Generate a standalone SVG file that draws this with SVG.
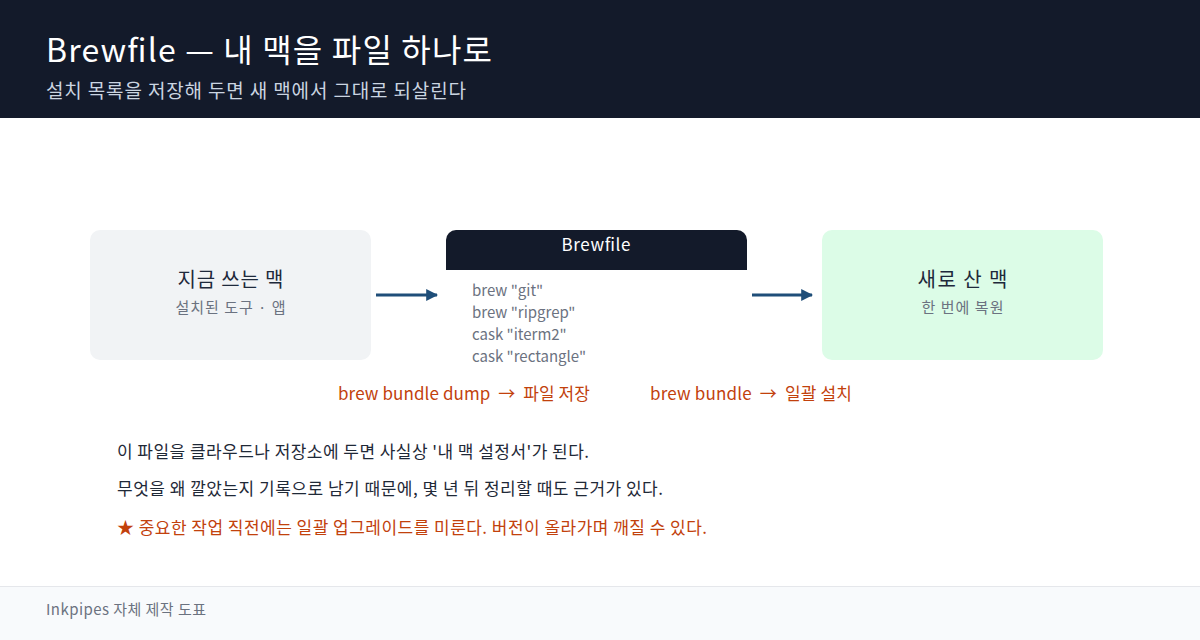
<svg xmlns="http://www.w3.org/2000/svg" width="1200" height="640" viewBox="0 0 1200 640">
<style>
text{font-family:"Noto Sans CJK KR","Noto Sans",sans-serif}
.nt{font-size:20px;fill:#1e293b;text-anchor:middle}
.ns{font-size:15px;fill:#6b7280;text-anchor:middle}
.code{font-size:15px;fill:#6b7280}
.lab{font-size:17px;fill:#c2410c}
.body{font-size:17px;fill:#1f2937}
.conn{stroke:#1f4e79;stroke-width:3;fill:none}
</style>
<defs>
<marker id="ah" viewBox="0 0 10 10" refX="9" refY="5" markerWidth="4" markerHeight="4" orient="auto" markerUnits="strokeWidth">
<path d="M0,0 L10,5 L0,10 z" fill="#1f4e79"/>
</marker>
</defs>
<rect x="0" y="0" width="1200" height="640" fill="#ffffff"/>
<g id="header">
<rect x="0" y="0" width="1200" height="118" fill="#131a2a"/>
<text x="46" y="62" font-size="32" fill="#ffffff" textLength="446" lengthAdjust="spacing">Brewfile — 내 맥을 파일 하나로</text>
<text x="46" y="98" font-size="19" fill="#cbd5e1" textLength="420" lengthAdjust="spacing">설치 목록을 저장해 두면 새 맥에서 그대로 되살린다</text>
</g>
<g id="node-current">
<rect x="90" y="230" width="281" height="130" rx="10" fill="#f1f3f5"/>
<text class="nt" x="230.5" y="287" textLength="106" lengthAdjust="spacing">지금 쓰는 맥</text>
<text class="ns" x="230.5" y="313" textLength="110" lengthAdjust="spacing">설치된 도구 · 앱</text>
</g>
<g id="node-brewfile">
<path d="M446,270 V240 A10,10 0 0 1 456,230 H737 A10,10 0 0 1 747,240 V270 Z" fill="#131a2a"/>
<text x="596" y="251" font-size="17" fill="#ffffff" text-anchor="middle" textLength="69" lengthAdjust="spacing">Brewfile</text>
<text class="code" x="472" y="296">brew "git"</text>
<text class="code" x="472" y="318">brew "ripgrep"</text>
<text class="code" x="472" y="340">cask "iterm2"</text>
<text class="code" x="472" y="362">cask "rectangle"</text>
</g>
<g id="node-new">
<rect x="822" y="230" width="281" height="130" rx="10" fill="#dcfce7"/>
<text class="nt" x="962.5" y="287" textLength="90" lengthAdjust="spacing">새로 산 맥</text>
<text class="ns" x="962.5" y="313" textLength="82" lengthAdjust="spacing">한 번에 복원</text>
</g>
<g id="connectors">
<line class="conn" x1="376" y1="295" x2="437" y2="295" marker-end="url(#ah)"/>
<line class="conn" x1="752" y1="295" x2="812" y2="295" marker-end="url(#ah)"/>
</g>
<g id="labels">
<text class="lab" x="338" y="400" textLength="252" lengthAdjust="spacing">brew bundle dump&#160;&#160;→&#160;&#160;파일 저장</text>
<text class="lab" x="650" y="400" textLength="202" lengthAdjust="spacing">brew bundle&#160;&#160;→&#160;&#160;일괄 설치</text>
</g>
<g id="notes">
<text class="body" x="117" y="458" textLength="472" lengthAdjust="spacing">이 파일을 클라우드나 저장소에 두면 사실상 '내 맥 설정서'가 된다.</text>
<text class="body" x="117" y="495" textLength="546" lengthAdjust="spacing">무엇을 왜 깔았는지 기록으로 남기 때문에, 몇 년 뒤 정리할 때도 근거가 있다.</text>
<text class="lab" x="117" y="534" textLength="590" lengthAdjust="spacing">★ 중요한 작업 직전에는 일괄 업그레이드를 미룬다. 버전이 올라가며 깨질 수 있다.</text>
</g>
<g id="footer">
<rect x="0" y="586" width="1200" height="54" fill="#f8fafc"/>
<line x1="0" y1="586.5" x2="1200" y2="586.5" stroke="#e5e7eb" stroke-width="1"/>
<text x="46" y="615" font-size="15" fill="#6b7280" textLength="160" lengthAdjust="spacing">Inkpipes 자체 제작 도표</text>
</g>
</svg>
